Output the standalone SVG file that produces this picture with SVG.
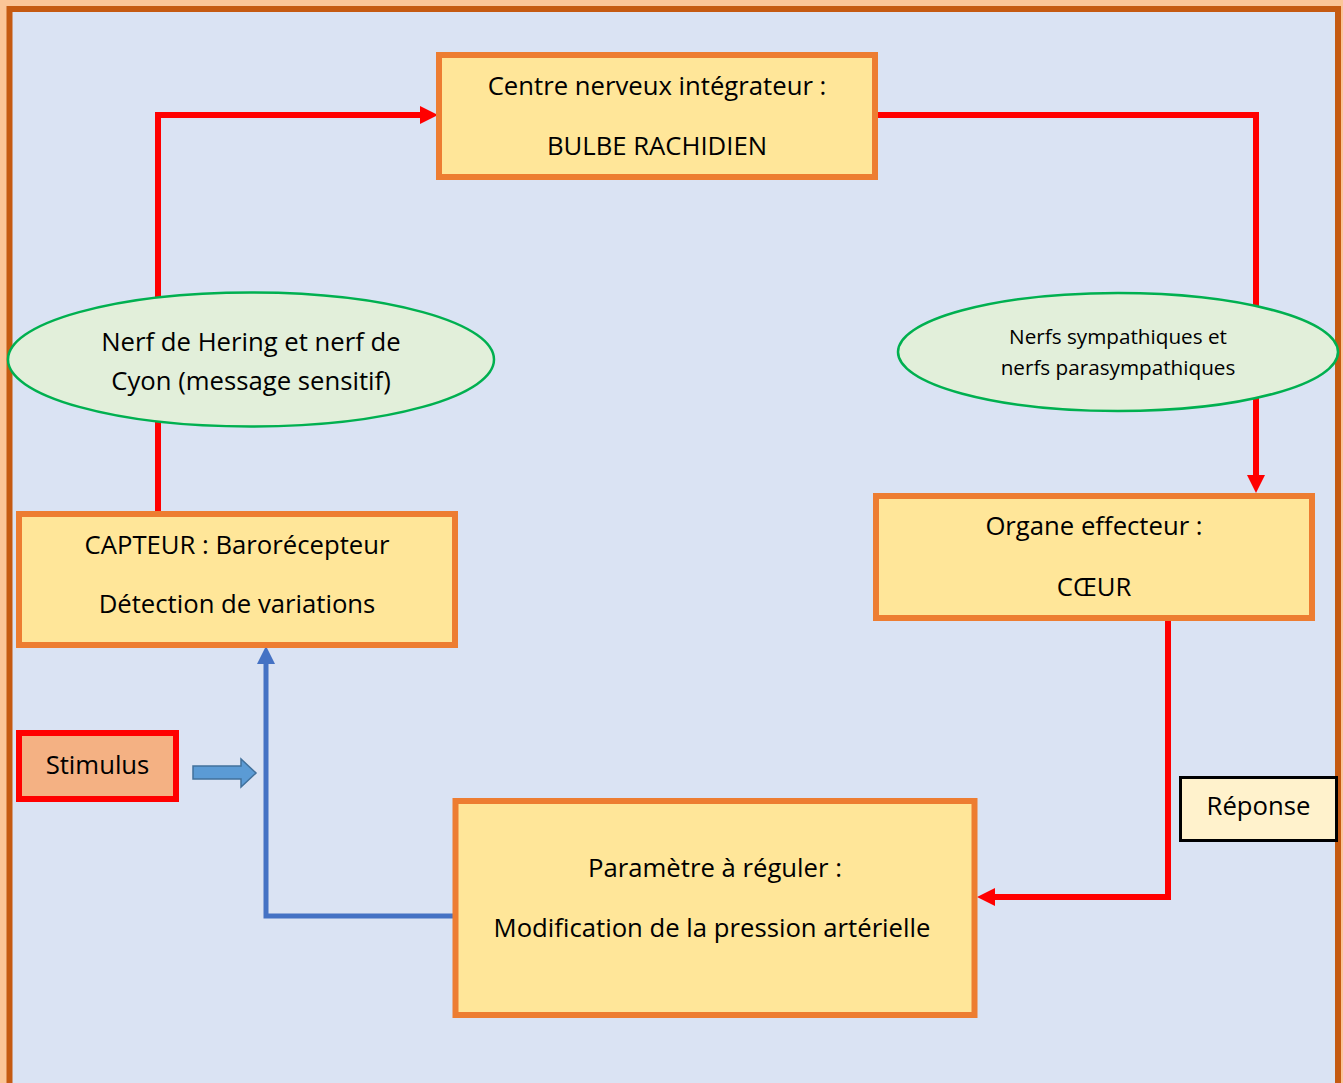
<svg xmlns="http://www.w3.org/2000/svg" width="1343" height="1083" viewBox="0 0 1343 1083">
<style>
.box{fill:#FFE699;stroke:#ED7D31;stroke-width:6}
.ell{fill:#E2EFDA;stroke:#00B050;stroke-width:2.5}
.t{font-family:"Open Sans","Noto Sans",sans-serif;font-size:25.7px;fill:#000;text-anchor:middle}
.ts{font-family:"Open Sans","Noto Sans",sans-serif;font-size:20.7px;fill:#000;text-anchor:middle}
.red{fill:none;stroke:#FF0000;stroke-width:6}
.blue{fill:none;stroke:#4472C4;stroke-width:5}
</style>
<defs>
<marker id="ar" markerUnits="userSpaceOnUse" viewBox="0 0 18 18" refX="0" refY="9" markerWidth="18" markerHeight="18" orient="auto"><path d="M0,0 L18,9 L0,18 Z" fill="#FF0000"/></marker>
<marker id="ab" markerUnits="userSpaceOnUse" viewBox="0 0 18 18" refX="0" refY="9" markerWidth="18" markerHeight="18" orient="auto"><path d="M0,0 L18,9 L0,18 Z" fill="#4472C4"/></marker>
</defs>
<rect x="0" y="0" width="1343" height="1083" fill="#FBC597"/>
<rect x="9.5" y="9" width="1328.5" height="1100" fill="#DAE3F3" stroke="#C55A11" stroke-width="6"/>
<g id="connectors">
<path class="red" d="M158,511 L158,115 L420,115" marker-end="url(#ar)"/>
<path class="red" d="M878,115 L1256,115 L1256,475" marker-end="url(#ar)"/>
<path class="red" d="M1168,621 L1168,897 L995,897" marker-end="url(#ar)"/>
<path class="blue" d="M455,916 L266,916 L266,664" marker-end="url(#ab)"/>
<polygon points="193,766 241,766 241,759 256,773 241,787 241,779 193,779" fill="#5B9BD5" stroke="#41719C" stroke-width="1.5"/>
</g>
<g id="centre">
<rect class="box" x="439" y="55" width="436" height="122"/>
<text class="t" x="657" y="95">Centre nerveux intégrateur :</text>
<text class="t" x="657" y="155">BULBE RACHIDIEN</text>
</g>
<g id="nerf-sensitif">
<ellipse class="ell" cx="251" cy="359.5" rx="243" ry="67"/>
<text class="t" x="251" y="351">Nerf de Hering et nerf de</text>
<text class="t" x="251" y="390">Cyon (message sensitif)</text>
</g>
<g id="nerfs-moteurs">
<ellipse class="ell" cx="1118" cy="352" rx="220" ry="59"/>
<text class="ts" x="1118" y="344">Nerfs sympathiques et</text>
<text class="ts" x="1118" y="375">nerfs parasympathiques</text>
</g>
<g id="effecteur">
<rect class="box" x="876" y="496" width="436" height="122"/>
<text class="t" x="1094" y="535">Organe effecteur :</text>
<text class="t" x="1094" y="596">CŒUR</text>
</g>
<g id="capteur">
<rect class="box" x="19" y="514" width="436" height="131"/>
<text class="t" x="237" y="554">CAPTEUR : Barorécepteur</text>
<text class="t" x="237" y="613">Détection de variations</text>
</g>
<g id="stimulus">
<rect x="19" y="733" width="157" height="66" fill="#F4B183" stroke="#FF0000" stroke-width="6"/>
<text class="t" x="97.5" y="774">Stimulus</text>
</g>
<g id="reponse">
<rect x="1180.5" y="777.5" width="156" height="63" fill="#FFF2CC" stroke="#000" stroke-width="3"/>
<text class="t" x="1258.5" y="815">Réponse</text>
</g>
<g id="parametre">
<rect class="box" x="455.5" y="801" width="519" height="214"/>
<text class="t" x="715" y="877">Paramètre à réguler :</text>
<text class="t" x="712" y="937">Modification de la pression artérielle</text>
</g>
</svg>
